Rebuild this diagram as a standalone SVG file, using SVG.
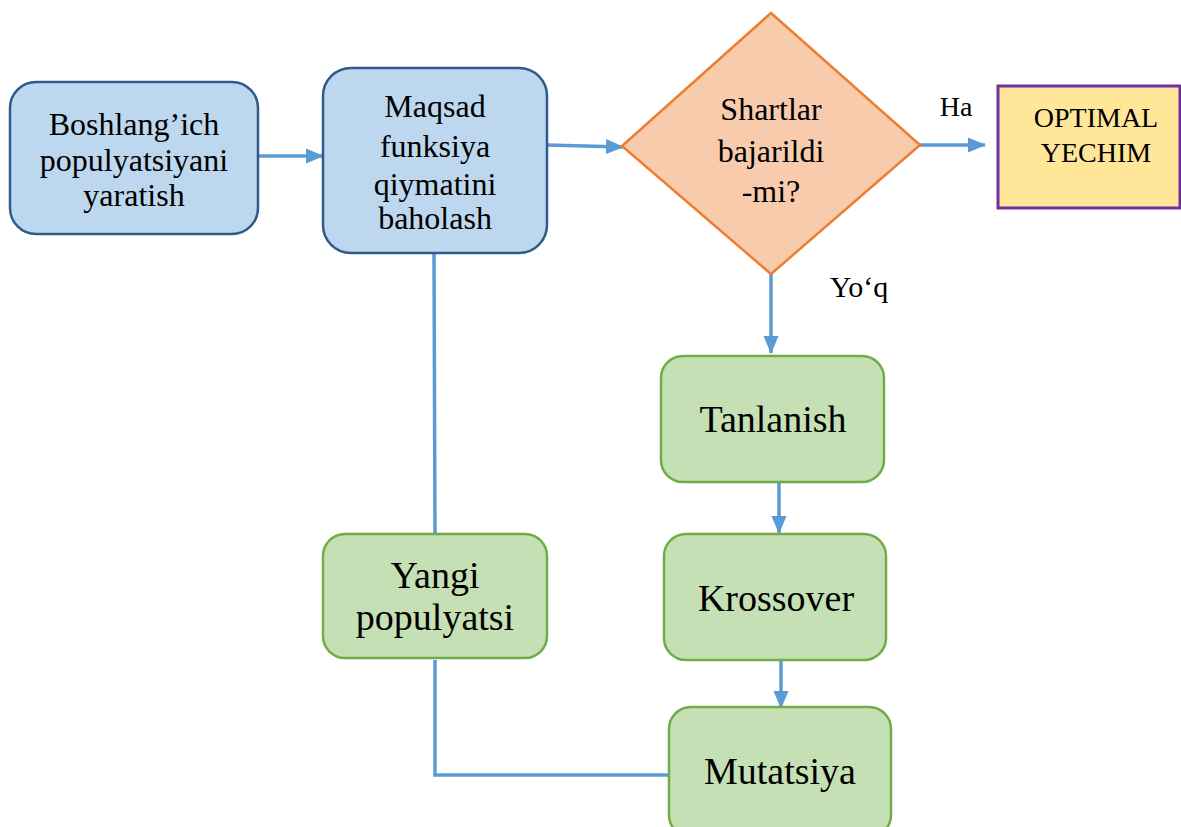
<svg xmlns="http://www.w3.org/2000/svg" width="1181" height="827" viewBox="0 0 1181 827">
  <style>
    .blue { fill: #bdd7ee; stroke: #2e5b8a; stroke-width: 2.5; }
    .green { fill: #c5e0b4; stroke: #70ad47; stroke-width: 2.5; }
    .dec { fill: #f8cbad; stroke: #ed7d31; stroke-width: 2.5; }
    .goal { fill: #ffe699; stroke: #7030a0; stroke-width: 3; }
    .t { font-family: "Liberation Serif", "Times New Roman", serif; fill: #000; text-anchor: middle; }
    .s32 { font-size: 32px; }
    .s38 { font-size: 38px; }
    .s28 { font-size: 28px; }
    .s30 { font-size: 30px; }
    .link { fill: none; stroke: #5b9bd5; stroke-width: 3.5; }
  </style>
  <defs>
    <marker id="head" viewBox="0 0 18 17" markerWidth="18" markerHeight="17" refX="17" refY="8.5" orient="auto" markerUnits="userSpaceOnUse">
      <path d="M0,1 L18,8.5 L0,16 Z" fill="#5b9bd5"/>
    </marker>
  </defs>

  <!-- connectors -->
  <g id="connectors">
    <line class="link" x1="258" y1="156" x2="323" y2="156" marker-end="url(#head)"/>
    <line class="link" x1="547" y1="145" x2="623" y2="147" marker-end="url(#head)"/>
    <line class="link" x1="920" y1="145" x2="985" y2="145" marker-end="url(#head)"/>
    <line class="link" x1="771" y1="274" x2="771" y2="353" marker-end="url(#head)"/>
    <line class="link" x1="779" y1="482" x2="779" y2="533" marker-end="url(#head)"/>
    <line class="link" x1="781" y1="660" x2="781" y2="708" marker-end="url(#head)"/>
    <polyline class="link" points="434,253 435,534"/>
    <polyline class="link" points="435,660 435,775 669,775"/>
  </g>

  <g id="start">
    <rect class="blue" x="10" y="82" width="248" height="152" rx="26"/>
    <text class="t s32" x="134" y="135">Boshlang’ich</text>
    <text class="t s32" x="134" y="171">populyatsiyani</text>
    <text class="t s32" x="134" y="206">yaratish</text>
  </g>

  <g id="evaluate">
    <rect class="blue" x="323" y="68" width="224" height="185" rx="28"/>
    <text class="t s32" x="435" y="117">Maqsad</text>
    <text class="t s32" x="435" y="157">funksiya</text>
    <text class="t s32" x="435" y="195">qiymatini</text>
    <text class="t s32" x="435" y="229">baholash</text>
  </g>

  <g id="check">
    <polygon class="dec" points="771,13 920,145 771,274 622,146"/>
    <text class="t s32" x="771" y="120">Shartlar</text>
    <text class="t s32" x="771" y="162">bajarildi</text>
    <text class="t s32" x="771" y="202">-mi?</text>
  </g>

  <g id="label-yes">
    <text class="t s28" x="956" y="116">Ha</text>
  </g>
  <g id="label-no">
    <text class="t s30" x="859" y="297">Yo‘q</text>
  </g>

  <g id="optimal">
    <rect class="goal" x="998" y="86" width="182" height="122"/>
    <text class="t s28" x="1096" y="127">OPTIMAL</text>
    <text class="t s28" x="1096" y="162">YECHIM</text>
  </g>

  <g id="selection">
    <rect class="green" x="661" y="356" width="223" height="126" rx="22"/>
    <text class="t s38" x="773" y="432">Tanlanish</text>
  </g>

  <g id="crossover">
    <rect class="green" x="664" y="534" width="222" height="126" rx="22"/>
    <text class="t s38" x="776" y="611">Krossover</text>
  </g>

  <g id="mutation">
    <rect class="green" x="669" y="707" width="222" height="130" rx="22"/>
    <text class="t s38" x="780" y="784">Mutatsiya</text>
  </g>

  <g id="new-population">
    <rect class="green" x="323" y="534" width="224" height="124" rx="22"/>
    <text class="t s38" x="435" y="588">Yangi</text>
    <text class="t s38" x="435" y="630">populyatsi</text>
  </g>
</svg>
